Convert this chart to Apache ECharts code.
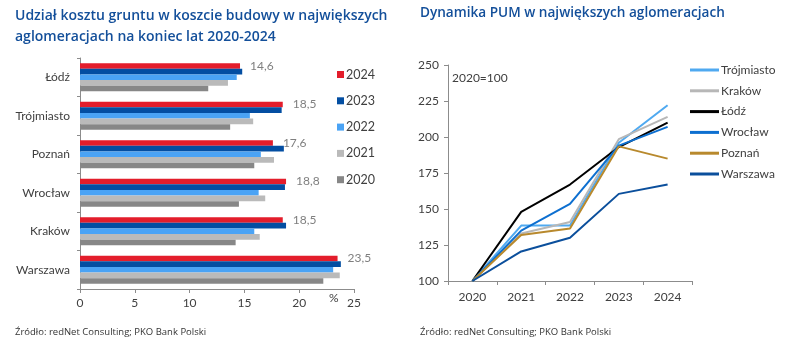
<!DOCTYPE html>
<html>
<head>
<meta charset="utf-8">
<script src="https://cdn.jsdelivr.net/npm/echarts@6/dist/echarts.min.js"></script>
<style>html,body{margin:0;padding:0;background:#fff}#c{width:800px;height:350px}</style>
</head>
<body>
<div id="c"></div>
<script>
// Left chart: land cost share (%)
const cities = ['Łódź', 'Trójmiasto', 'Poznań', 'Wrocław', 'Kraków', 'Warszawa'];
const share2024 = [14.6, 18.5, 17.6, 18.8, 18.5, 23.5];
const share2023 = [14.8, 18.4, 18.6, 18.7, 18.8, 23.8];
const share2022 = [14.3, 15.5, 16.5, 16.3, 15.9, 23.1];
const share2021 = [13.5, 15.8, 17.7, 16.9, 16.4, 23.7];
const share2020 = [11.7, 13.7, 15.9, 14.5, 14.2, 22.2];
const shareTicks = [0, 5, 10, 15, 20, 25];

// Right chart: PUM dynamics (2020=100)
const years = ['2020', '2021', '2022', '2023', '2024'];
const pumTrojmiasto = [100, 138.5, 138.5, 196, 222];
const pumKrakow = [100, 133, 141, 198.5, 214];
const pumLodz = [100, 148, 167, 193, 210];
const pumWroclaw = [100, 135, 153.5, 194, 207];
const pumPoznan = [100, 132, 136.5, 193.5, 185];
const pumWarszawa = [100, 120.5, 130, 160.5, 167];
const pumTicks = [100, 125, 150, 175, 200, 225, 250];

const FONT = 'Lato';
const barColors = {'2024':'#e31d2b','2023':'#034ea2','2022':'#4aa3f5','2021':'#bababa','2020':'#878787'};
const lineColors = {'Trójmiasto':'#4fa9f0','Kraków':'#b7b7b7','Łódź':'#000000','Wrocław':'#0d6fd0','Poznań':'#b8892d','Warszawa':'#0b4f9c'};

const barData = [['2024', share2024], ['2023', share2023], ['2022', share2022], ['2021', share2021], ['2020', share2020]];
const lineData = [['Trójmiasto', pumTrojmiasto], ['Kraków', pumKrakow], ['Łódź', pumLodz], ['Wrocław', pumWroclaw], ['Poznań', pumPoznan], ['Warszawa', pumWarszawa]];

const axisLineStyle = {color: '#8c8c8c', width: 1};
const labelStyle = {color: '#404040', fontSize: 12, fontFamily: FONT};

const series = [];
barData.forEach(([name, vals]) => {
  series.push({
    name, type: 'bar', xAxisIndex: 0, yAxisIndex: 0, data: vals,
    itemStyle: {color: barColors[name]},
    barGap: '0%', barCategoryGap: '27%',
    label: name === '2024' ? {show: true, position: 'right', distance: 10, color: '#7f7f7f', fontSize: 12, fontFamily: FONT,
      formatter: p => p.value.toFixed(1).replace('.', ',')} : {show: false}
  });
});
lineData.forEach(([name, vals]) => {
  series.push({
    name, type: 'line', xAxisIndex: 1, yAxisIndex: 1, data: vals,
    symbol: 'none', lineStyle: {width: 2, color: lineColors[name]}, itemStyle: {color: lineColors[name]}
  });
});

const chart = echarts.init(document.getElementById('c'));
chart.setOption({
  animation: false,
  backgroundColor: '#fff',
  textStyle: {fontFamily: FONT},
  grid: [
    {left: 80, right: 446, top: 58, bottom: 61},
    {left: 448, right: 108, top: 65, bottom: 69}
  ],
  legend: [
    {data: barData.map(d => d[0]), orient: 'vertical', left: 332, top: 63, itemWidth: 7, itemHeight: 7, itemGap: 13.3,
      icon: 'rect', textStyle: {color: '#404040', fontSize: 12.5, fontFamily: FONT, padding: [0,0,0,-3]}},
    {data: lineData.map(d => d[0]), orient: 'vertical', left: 685, top: 59, itemWidth: 29, itemHeight: 3, itemGap: 8.8,
      icon: 'rect', textStyle: {color: '#404040', fontSize: 12, fontFamily: FONT, padding: [0,0,0,-3]}}
  ],
  xAxis: [
    {type: 'value', gridIndex: 0, min: shareTicks[0], max: shareTicks[shareTicks.length-1], interval: 5,
      axisLine: {show: true, lineStyle: axisLineStyle}, axisTick: {show: true, length: 4, lineStyle: axisLineStyle},
      splitLine: {show: false}, axisLabel: Object.assign({margin: 8}, labelStyle)},
    {type: 'category', gridIndex: 1, data: years, boundaryGap: true,
      axisLine: {show: true, lineStyle: axisLineStyle}, axisTick: {show: true, length: 4, lineStyle: axisLineStyle},
      axisLabel: Object.assign({margin: 10}, labelStyle)}
  ],
  yAxis: [
    {type: 'category', gridIndex: 0, data: cities, inverse: true,
      axisLine: {show: true, lineStyle: axisLineStyle}, axisTick: {show: true, length: 3, lineStyle: axisLineStyle},
      axisLabel: Object.assign({margin: 10}, labelStyle)},
    {type: 'value', gridIndex: 1, min: pumTicks[0], max: pumTicks[pumTicks.length-1], interval: 25,
      axisLine: {show: true, lineStyle: axisLineStyle}, axisTick: {show: true, length: 4, lineStyle: axisLineStyle},
      splitLine: {show: false}, axisLabel: Object.assign({margin: 9}, labelStyle)}
  ],
  graphic: [
    {type: 'text', left: 15, top: 6, style: {text: 'Udział kosztu gruntu w koszcie budowy w największych\naglomeracjach na koniec lat 2020-2024',
      fill: '#134f9a', font: '600 14px "Open Sans"', lineHeight: 21}},
    {type: 'text', left: 420, top: 6, style: {text: 'Dynamika PUM w największych aglomeracjach', fill: '#134f9a', font: '600 13.6px "Open Sans"'}},
    {type: 'text', left: 15, top: 327, style: {text: 'Źródło: redNet Consulting; PKO Bank Polski', fill: '#333', font: '9.5px "Open Sans"'}},
    {type: 'text', left: 420, top: 327, style: {text: 'Źródło: redNet Consulting; PKO Bank Polski', fill: '#333', font: '9.5px "Open Sans"'}},
    {type: 'text', left: 329, top: 292, style: {text: '%', fill: '#404040', font: '12px Lato'}},
    {type: 'text', left: 452, top: 72, style: {text: '2020=100', fill: '#404040', font: '12px Lato'}}
  ],
  series
});
</script>
</body>
</html>
